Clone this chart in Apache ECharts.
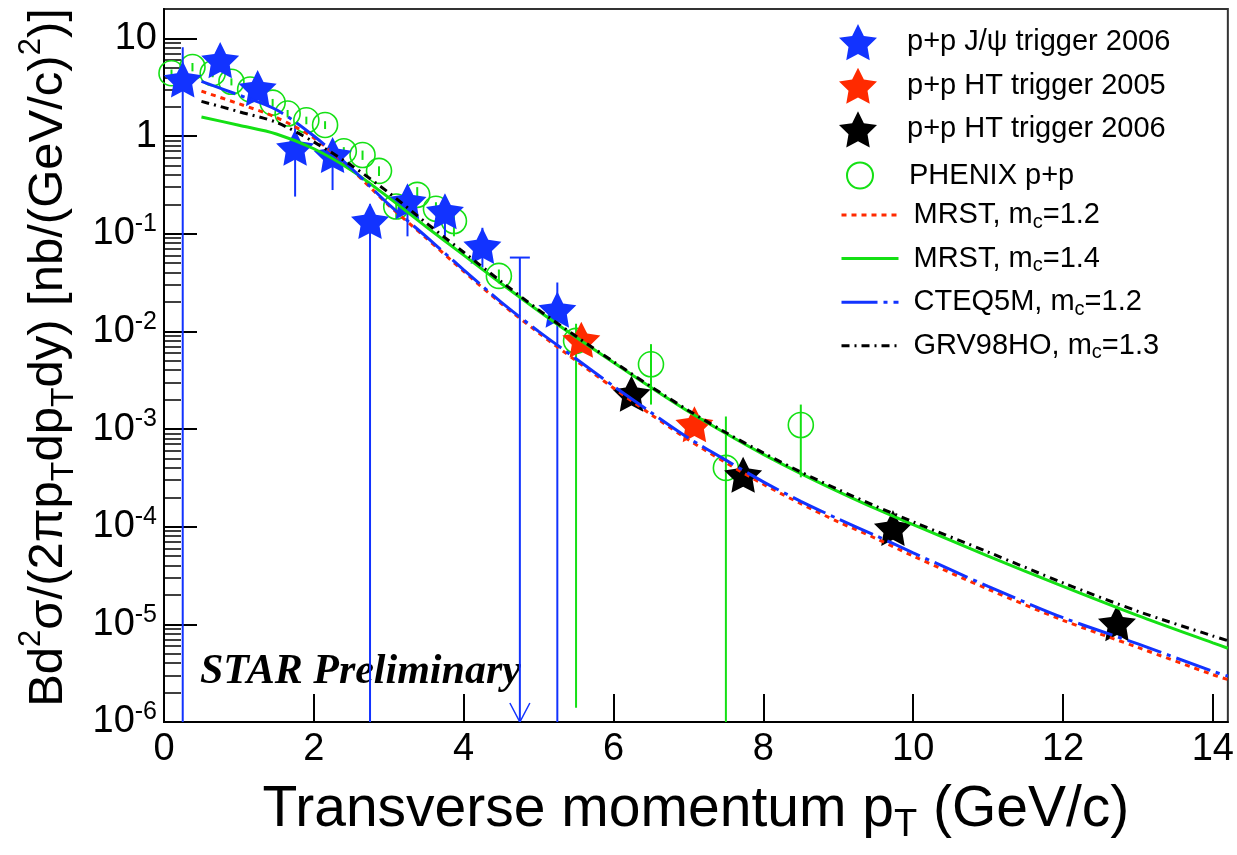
<!DOCTYPE html>
<html><head><meta charset="utf-8">
<script src="https://cdn.jsdelivr.net/npm/echarts@6/dist/echarts.min.js"></script>
<style>html,body{margin:0;padding:0;background:#fff}#c{width:1237px;height:855px}</style>
</head><body><div id="c"></div>
<script>
// ---------- axis ticks ----------
const xTicks = [0, 2, 4, 6, 8, 10, 12, 14];
const yTicks = [1e-6, 1e-5, 1e-4, 1e-3, 1e-2, 1e-1, 1, 10];
const yMinorTicks = [
  2e-6,3e-6,4e-6,5e-6,6e-6,7e-6,8e-6,9e-6,
  2e-5,3e-5,4e-5,5e-5,6e-5,7e-5,8e-5,9e-5,
  2e-4,3e-4,4e-4,5e-4,6e-4,7e-4,8e-4,9e-4,
  2e-3,3e-3,4e-3,5e-3,6e-3,7e-3,8e-3,9e-3,
  0.02,0.03,0.04,0.05,0.06,0.07,0.08,0.09,
  0.2,0.3,0.4,0.5,0.6,0.7,0.8,0.9,
  2,3,4,5,6,7,8,9
];

// ---------- STAR J/psi trigger 2006 ----------
const jpsiX  = [0.25, 0.75, 1.25, 1.75, 2.25, 2.75, 3.25, 3.75, 4.25, 5.25];
const jpsiY  = [3.8, 6.0, 3.1, 0.76, 0.64, 0.135, 0.215, 0.17, 0.075, 0.0167];
const jpsiLo = [1e-6, 4.8, 2.5, 0.24, 0.28, 1e-6, 0.094, 0.094, 0.045, 1e-6];
const jpsiHi = [8.1, 7.2, 3.7, 1.28, 0.86, 0.2, 0.31, 0.25, 0.115, 0.0316];
// upper-limit point (no marker)
const ulX  = [4.75];
const ulLo = [1e-6];
const ulHi = [0.057];

// ---------- STAR HT triggers ----------
const ht05X = [5.57, 7.08];
const ht05Y = [0.0082, 0.00112];
const ht06X = [6.24, 7.73, 9.73, 12.72];
const ht06Y = [0.0023, 0.00034, 9.7e-5, 1.03e-5];

// ---------- PHENIX p+p ----------
const phX  = [0.1, 0.38, 0.65, 0.9, 1.15, 1.45, 1.65, 1.9, 2.15, 2.4, 2.65, 2.87, 3.1, 3.38, 3.63, 3.87, 4.47, 5.5, 6.5, 7.5, 8.5];
const phY  = [4.4, 5.1, 4.4, 3.6, 3.0, 2.2, 1.7, 1.45, 1.3, 0.7, 0.64, 0.44, 0.19, 0.25, 0.18, 0.135, 0.037, 0.008, 0.0046, 0.0004, 0.0011];
const phLo = [4.0, 4.6, 4.0, 3.3, 2.7, 2.0, 1.55, 1.32, 1.18, 0.63, 0.57, 0.39, 0.141, 0.2, 0.15, 0.094, 0.031, 1.4e-6, 0.00178, 1e-6, 0.00032];
const phHi = [4.8, 5.6, 4.8, 3.9, 3.3, 2.4, 1.85, 1.58, 1.42, 0.77, 0.71, 0.49, 0.24, 0.3, 0.21, 0.17, 0.043, 0.012, 0.0074, 0.00134, 0.00178];

// ---------- theory curves ----------
const curveX   = [0.5, 1, 1.5, 2, 2.5, 3, 3.5, 4, 4.5, 5, 5.5, 6, 6.5, 7, 7.5, 8, 8.5, 9, 9.5, 10, 11, 12, 13, 14, 14.2];
const mrst12Y  = [2.88, 2.14, 1.55, 0.955, 0.457, 0.195, 0.0902, 0.0412, 0.0193, 0.00966, 0.00501, 0.00263, 0.00141, 7.76e-4, 4.52e-4, 2.72e-4, 1.72e-4, 1.12e-4, 7.6e-5, 5.0e-5, 2.29e-5, 1.10e-5, 5.8e-6, 3.05e-6, 2.72e-6];
const mrst14Y  = [1.57, 1.29, 1.05, 0.741, 0.447, 0.234, 0.1175, 0.0603, 0.0309, 0.0162, 0.0087, 0.00479, 0.00266, 0.00151, 9.0e-4, 5.5e-4, 3.5e-4, 2.29e-4, 1.53e-4, 1.05e-4, 5.0e-5, 2.45e-5, 1.23e-5, 6.46e-6, 5.69e-6];
const cteqY    = [3.63, 2.63, 1.86, 1.0, 0.468, 0.1995, 0.0933, 0.0427, 0.01995, 0.01, 0.00525, 0.00275, 0.00148, 8.1e-4, 4.8e-4, 2.88e-4, 1.82e-4, 1.20e-4, 8.1e-5, 5.4e-5, 2.45e-5, 1.17e-5, 6.3e-6, 3.3e-6, 2.95e-6];
const grvY     = [2.265, 1.778, 1.38, 0.871, 0.501, 0.263, 0.129, 0.0646, 0.0324, 0.0166, 0.0089, 0.0049, 0.00272, 0.00155, 9.2e-4, 5.7e-4, 3.63e-4, 2.40e-4, 1.62e-4, 1.12e-4, 5.5e-5, 2.66e-5, 1.36e-5, 7.6e-6, 6.8e-6];

// ---------- names ----------
const nJpsi = 'p+p J/\u03c8 trigger 2006';
const nHT05 = 'p+p HT trigger 2005';
const nHT06 = 'p+p HT trigger 2006';
const nPhx  = 'PHENIX p+p';
const nM12 = 'MRST, mc=1.2', nM14 = 'MRST, mc=1.4', nCT = 'CTEQ5M, mc=1.2', nGRV = 'GRV98HO, mc=1.3';
const richNames = {};
richNames[nM12] = 'MRST, m{sub|c}=1.2';
richNames[nM14] = 'MRST, m{sub|c}=1.4';
richNames[nCT]  = 'CTEQ5M, m{sub|c}=1.2';
richNames[nGRV] = 'GRV98HO, m{sub|c}=1.3';

const BLUE = '#1233ff', RED = '#ff2a00', GREEN = '#14e014', BLACK = '#000000';
const FONT = '"Liberation Sans", Arial, sans-serif';
const STAR = 'path://M50,0L64.69,29.77L97.55,34.55L73.78,57.73L79.39,90.45L50,75L20.61,90.45L26.22,57.73L2.45,34.55L35.31,29.77Z';

const pairs = (xs, ys) => xs.map((x, i) => [x, ys[i]]);
const triples = (xs, lo, hi) => xs.map((x, i) => [x, lo[i], hi[i]]);

function errRender(color) {
  return function (params, api) {
    const x = api.value(0);
    const a = api.coord([x, api.value(1)]);
    const b = api.coord([x, api.value(2)]);
    return {type: 'line', shape: {x1: a[0], y1: a[1], x2: b[0], y2: b[1]},
            style: {stroke: color, lineWidth: 2}};
  };
}
function limitRender(params, api) {
  const x = api.value(0);
  const a = api.coord([x, api.value(1)]);
  const b = api.coord([x, api.value(2)]);
  return {type: 'group', children: [
    {type: 'line', shape: {x1: a[0], y1: a[1], x2: b[0], y2: b[1]}, style: {stroke: BLUE, lineWidth: 2}},
    {type: 'line', shape: {x1: b[0] - 10, y1: b[1], x2: b[0] + 10, y2: b[1]}, style: {stroke: BLUE, lineWidth: 2}},
    {type: 'polyline', shape: {points: [[a[0] - 10, a[1] - 19], [a[0], a[1]], [a[0] + 10, a[1] - 19]]}, style: {stroke: BLUE, lineWidth: 1.5, fill: null}}
  ]};
}

function yLabel(v) {
  const e = Math.round(Math.log10(v));
  if (e === 0) return '1';
  if (e === 1) return '10';
  return '10{sup|' + e + '}';
}

const chart = echarts.init(document.getElementById('c'), null, {renderer: 'canvas'});
chart.setOption({
  animation: false,
  backgroundColor: '#fff',
  textStyle: {fontFamily: FONT, color: '#000'},
  grid: {left: 164, right: 5, top: 9, bottom: 133, show: true, borderColor: '#333', borderWidth: 2},
  xAxis: {
    type: 'value', min: 0, max: 14.2,
    name: 'Transverse momentum p{sub|T} (GeV/c)',
    nameLocation: 'middle', nameGap: 51,
    nameTextStyle: {fontSize: 57, lineHeight: 70, color: '#000', fontFamily: FONT,
      rich: {sub: {fontSize: 38, lineHeight: 3, verticalAlign: 'bottom', fontFamily: FONT}}},
    axisLine: {lineStyle: {color: '#000', width: 2}},
    axisTick: {inside: true, length: 28, customValues: xTicks, lineStyle: {color: '#000', width: 2}},
    axisLabel: {customValues: xTicks, fontSize: 38, lineHeight: 40, margin: 8, color: '#000', fontFamily: FONT},
    splitLine: {show: false}
  },
  yAxis: [{
    type: 'log', logBase: 10, min: 1e-6, max: 20,
    name: 'Bd{sup|2}\u03c3/(2\u03c0p{sub|T}dp{sub|T}dy) [nb/(GeV/c){sup|2})]',
    nameLocation: 'middle', nameRotate: 90, nameGap: 84,
    nameTextStyle: {fontSize: 49, lineHeight: 64, color: '#000', fontFamily: FONT, padding: [0, 0, 0, 16],
      rich: {sup: {fontSize: 31, lineHeight: 26, verticalAlign: 'top', fontFamily: FONT},
             sub: {fontSize: 32, lineHeight: 5, verticalAlign: 'bottom', fontFamily: FONT}}},
    axisLine: {lineStyle: {color: '#000', width: 2}},
    axisTick: {inside: true, length: 33, customValues: yTicks, lineStyle: {color: '#000', width: 2}},
    axisLabel: {customValues: yTicks, formatter: yLabel, fontSize: 38, lineHeight: 44, margin: 7, color: '#000', fontFamily: FONT,
      rich: {sup: {fontSize: 25, lineHeight: 20, verticalAlign: 'top', fontFamily: FONT}}},
    splitLine: {show: false}
  }, {
    type: 'log', logBase: 10, min: 1e-6, max: 20, position: 'left', offset: 0,
    axisLine: {show: false}, axisLabel: {show: false}, splitLine: {show: false},
    axisTick: {inside: true, length: 17, customValues: yMinorTicks, lineStyle: {color: '#000', width: 1.5}}
  }],
  legend: [{
    data: [nJpsi, nHT05, nHT06], orient: 'vertical', left: 839, top: 24, padding: 0,
    itemWidth: 38, itemHeight: 38, itemGap: 7.5, selectedMode: false,
    textStyle: {fontSize: 29, color: '#000', fontFamily: FONT, padding: [0, 0, 0, 25]}
  }, {
    data: [nPhx], orient: 'vertical', left: 846, top: 161, padding: 0,
    itemWidth: 26, itemHeight: 26, selectedMode: false,
    textStyle: {fontSize: 29, color: '#000', fontFamily: FONT, padding: [0, 0, 0, 31]}
  }, {
    data: [nM12, nM14, nCT, nGRV], orient: 'vertical', left: 840, top: 198, padding: 0,
    itemWidth: 57, itemHeight: 1, itemGap: 9.6, selectedMode: false,
    itemStyle: {opacity: 0},
    lineStyle: {width: 3},
    formatter: n => richNames[n],
    textStyle: {fontSize: 29, lineHeight: 34, color: '#000', fontFamily: FONT, padding: [0, 0, 0, 10],
      rich: {sub: {fontSize: 20, lineHeight: 8, verticalAlign: 'bottom', fontFamily: FONT}}}
  }],
  graphic: [{
    type: 'text', x: 200, y: 672, z: 0,
    style: {text: 'STAR Preliminary', font: 'italic bold 42px "Liberation Serif", "Times New Roman", serif',
            fill: '#000', verticalAlign: 'middle', align: 'left'}
  }],
  series: [
    {name: 'phxErr', type: 'custom', clip: true, z: 2, renderItem: errRender(GREEN),
     encode: {x: 0, y: [1, 2]}, data: triples(phX, phLo, phHi)},
    {name: nPhx, type: 'scatter', z: 2, symbol: 'circle', symbolSize: 25,
     itemStyle: {color: 'rgba(0,0,0,0)', borderColor: GREEN, borderWidth: 1.6, opacity: 1},
     data: pairs(phX, phY)},
    {name: 'jpsiErr', type: 'custom', clip: true, z: 3, renderItem: errRender(BLUE),
     encode: {x: 0, y: [1, 2]}, data: triples(jpsiX, jpsiLo, jpsiHi)},
    {name: 'jpsiLimit', type: 'custom', clip: true, z: 3, renderItem: limitRender,
     encode: {x: 0, y: [1, 2]}, data: triples(ulX, ulLo, ulHi)},
    {name: nJpsi, type: 'scatter', z: 3, symbol: STAR, symbolSize: 38, symbolKeepAspect: true,
     itemStyle: {color: BLUE, opacity: 1}, data: pairs(jpsiX, jpsiY)},
    {name: nHT05, type: 'scatter', z: 3, symbol: STAR, symbolSize: 38, symbolKeepAspect: true,
     itemStyle: {color: RED, opacity: 1}, data: pairs(ht05X, ht05Y)},
    {name: nHT06, type: 'scatter', z: 3, symbol: STAR, symbolSize: 38, symbolKeepAspect: true,
     itemStyle: {color: BLACK, opacity: 1}, data: pairs(ht06X, ht06Y)},
    {name: nM12, type: 'line', z: 4, symbol: 'none', smooth: 0.3, data: pairs(curveX, mrst12Y),
     lineStyle: {color: RED, width: 3, type: [5, 5]}, itemStyle: {color: RED}},
    {name: nM14, type: 'line', z: 4, symbol: 'none', smooth: 0.3, data: pairs(curveX, mrst14Y),
     lineStyle: {color: GREEN, width: 3, type: 'solid'}, itemStyle: {color: GREEN}},
    {name: nCT, type: 'line', z: 4, symbol: 'none', smooth: 0.3, data: pairs(curveX, cteqY),
     lineStyle: {color: BLUE, width: 3, type: [36, 6, 4, 6]}, itemStyle: {color: BLUE}},
    {name: nGRV, type: 'line', z: 4, symbol: 'none', smooth: 0.3, data: pairs(curveX, grvY),
     lineStyle: {color: BLACK, width: 3, type: [8, 5, 2, 5]}, itemStyle: {color: BLACK}}
  ]
});
</script>
</body></html>
